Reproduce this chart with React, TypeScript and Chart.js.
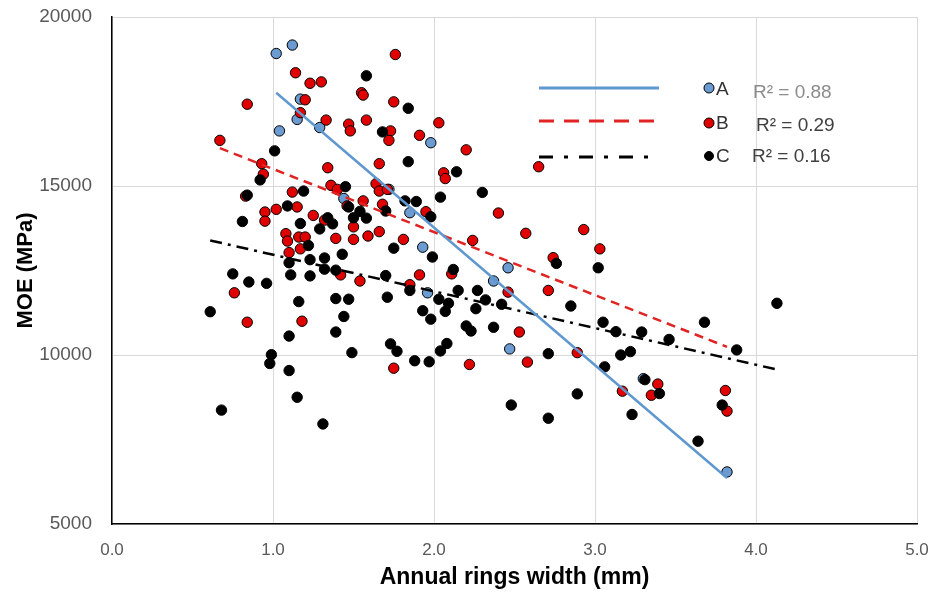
import React, { useEffect, useRef } from 'react';
import { Chart, registerables } from 'chart.js';

Chart.register(...registerables);

// ---- Series A (blue) ----
const aX = [1.02, 1.12, 1.17, 1.15, 1.04, 1.29, 1.98, 1.72, 1.44, 1.85, 1.93, 1.96, 2.37, 2.46, 2.47, 3.30, 3.82];
const aY = [18920, 19170, 17570, 16970, 16630, 16730, 16280, 14900, 14630, 14210, 13190, 11840, 12190, 12580, 10180, 9300, 6540];

// ---- Series B (red) ----
const bX = [
  1.76, 1.14, 1.23, 1.30, 1.55, 1.56, 1.20, 1.75, 0.84, 1.17, 1.33, 1.58,
  0.67, 0.93, 1.34, 0.94, 1.36, 1.40, 0.83, 1.12, 1.02, 1.15, 0.95, 0.95, 1.25, 1.32,
  1.08, 1.09, 1.16, 1.20, 1.10, 1.17, 1.39,
  1.47, 1.48, 1.73, 1.72, 1.91, 2.03, 2.20, 1.66, 2.06, 2.07, 1.64, 1.66, 1.71, 1.56, 1.46, 1.68, 1.95, 2.40, 1.50, 1.66, 1.59, 1.50, 1.81, 2.24,
  1.42, 0.76, 0.84, 1.18,
  1.54, 1.91, 1.85, 1.75, 2.22, 2.11,
  2.65, 2.57, 2.93, 3.03, 2.74, 2.46, 2.71, 2.53,
  2.89, 2.58, 3.17, 3.39, 3.35,
  3.81, 3.82,
];
const bY = [
  18890, 18350, 18040, 18080, 17760, 17690, 17550, 17490, 17420, 17170, 16950, 16950,
  16350, 15660, 15540, 15350, 15020, 14900, 14700, 14820, 14310, 14380, 14230, 13960, 14130, 13990,
  13590, 13370, 13490, 13490, 13030, 13140, 13450,
  16830, 16630, 16630, 16350, 16500, 16870, 16070, 15660, 15390, 15220, 15070, 14850, 14900, 14560, 14410, 14460, 14240, 14200, 13790, 13650, 13520, 13420, 13420, 13390,
  12370, 11840, 10970, 11000,
  12190, 12370, 12080, 9610, 9720, 12400,
  15570, 13600, 13710, 13140, 12880, 11860, 11910, 10680,
  10070, 9790, 8930, 9140, 8810,
  8950, 8340,
];

// ---- Series C (black) ----
const cX = [
  1.58, 1.84,
  1.01, 0.92, 0.84, 1.19, 1.09, 0.81, 1.34, 1.37, 1.17, 1.29,
  1.68, 1.84, 2.14, 1.45, 2.30, 2.04, 1.82, 1.89, 1.47, 1.70, 1.54, 1.98, 1.50, 1.58,
  1.22, 1.10, 1.23, 1.32, 1.43, 1.32, 1.39, 0.75, 0.85, 0.96, 1.11, 1.23, 1.16, 1.39, 0.61, 1.10, 1.39, 0.99, 0.98, 1.10,
  1.75, 1.99, 2.12, 1.70, 1.85, 1.71, 1.47, 2.03, 2.09, 2.15, 2.27, 2.32, 2.26, 1.93, 1.98, 2.07, 1.44, 2.20, 2.23, 2.37, 1.73, 1.77, 2.08, 2.04, 1.49, 1.88, 1.97,
  2.76, 3.02, 2.85, 2.42, 3.05, 3.13, 3.29,
  2.71, 3.16, 3.22, 3.06, 2.89, 2.48, 2.71, 3.31, 3.40, 3.23,
  3.68, 3.46, 4.13, 3.88, 3.79, 3.64,
  0.68, 1.15, 1.31,
];
const cY = [
  18260, 17300,
  16040, 15180, 14730, 14850, 14410, 13950, 14060, 13880, 13890, 13730,
  16600, 15720, 15420, 14980, 14810, 14670, 14560, 14540, 14380, 14260, 14250, 14090, 14060, 14050,
  13240, 12730, 12820, 12870, 12980, 12540, 12510, 12400, 12160, 12120, 12370, 12340, 11580, 11670, 11280, 10560, 10680, 10010, 9750, 9540,
  13160, 12900, 12530, 12350, 11910, 11710, 11650, 11650, 11530, 11910, 11910, 11630, 11370, 11310, 11060, 11290, 11140, 10860, 10710, 10820, 10330, 10110, 10340, 10120, 10070, 9830, 9800,
  12710, 12580, 11450, 11500, 10970, 10690, 10680,
  10040, 10000, 10100, 9650, 8850, 8520, 8130, 9270, 8860, 8240,
  10970, 10460, 11530, 10150, 8520, 7450,
  8370, 8750, 7960,
];

// ---- Trend lines (end points) ----
const trendAX = [1.02, 3.82];
const trendAY = [17760, 6360];
const trendBX = [0.67, 3.82];
const trendBY = [16120, 10240];
const trendCX = [0.61, 4.13];
const trendCY = [13390, 9570];

// ---- Legend texts ----
const seriesNames = ['A', 'B', 'C'];
const r2Labels = ['R\u00B2 = 0.88', 'R\u00B2 = 0.29', 'R\u00B2 = 0.16'];

// ---- Axis settings ----
const xMin = 0, xMax = 5, xStep = 1;
const yMin = 5000, yMax = 20000, yStep = 5000;
const xTitle = 'Annual rings width (mm)';
const yTitle = 'MOE (MPa)';

const BLUE = '#6b9bd1';
const BLUE_LINE = '#5f97cf';
const RED = '#e00000';
const RED_LINE = '#e02424';
const BLACK = '#000000';
const FONT = '"Liberation Sans", Arial, Helvetica, sans-serif';

const pts = (xs: number[], ys: number[]) => xs.map((x, i) => ({ x, y: ys[i] }));

const legendPlugin = {
  id: 'manualLegend',
  afterDraw(chart: any) {
    const ctx = chart.ctx as CanvasRenderingContext2D;
    const rows = [
      { line: BLUE_LINE, dash: [] as number[], lw: 3, ly: 88, fill: BLUE, mr: 5, my: 88, ty: 90, rx: 753, ry: 93, rc: '#8c8c8c' },
      { line: RED_LINE, dash: [15, 10], lw: 3, ly: 121, fill: RED, mr: 5, my: 123, ty: 124, rx: 756, ry: 126, rc: '#404040' },
      { line: BLACK, dash: [14, 11, 4, 11], lw: 3, ly: 157, fill: BLACK, mr: 4.5, my: 156, ty: 157, rx: 752, ry: 157, rc: '#404040' },
    ];
    ctx.save();
    rows.forEach((r, i) => {
      ctx.beginPath();
      ctx.setLineDash(r.dash);
      ctx.strokeStyle = r.line;
      ctx.lineWidth = r.lw;
      ctx.moveTo(539, r.ly);
      ctx.lineTo(659, r.ly);
      ctx.stroke();
      ctx.setLineDash([]);
      ctx.beginPath();
      ctx.arc(709, r.my, r.mr, 0, Math.PI * 2);
      ctx.fillStyle = r.fill;
      ctx.fill();
      ctx.lineWidth = 1;
      ctx.strokeStyle = '#000';
      ctx.stroke();
      ctx.font = '19px ' + FONT;
      ctx.textBaseline = 'middle';
      ctx.textAlign = 'left';
      ctx.fillStyle = '#333333';
      ctx.fillText(seriesNames[i], 716, r.ty);
      ctx.fillStyle = r.rc;
      ctx.fillText(r2Labels[i], r.rx, r.ry);
    });
    ctx.restore();
  },
};

export default function App() {
  const ref = useRef<HTMLCanvasElement | null>(null);
  useEffect(() => {
    if (!ref.current) return;
    Chart.defaults.font.family = FONT;
    const pointDs = (label: string, xs: number[], ys: number[], fill: string, order: number) => ({
      label,
      data: pts(xs, ys),
      backgroundColor: fill,
      borderColor: '#000000',
      borderWidth: 1,
      pointRadius: 5.2,
      pointHoverRadius: 5.2,
      showLine: false,
      order,
    });
    const lineDs = (label: string, xs: number[], ys: number[], color: string, dash: number[]) => ({
      type: 'line' as const,
      label,
      data: pts(xs, ys),
      borderColor: color,
      borderWidth: 2.5,
      borderDash: dash,
      pointRadius: 0,
      fill: false,
      tension: 0,
      order: 0,
    });
    const chart = new Chart(ref.current, {
      type: 'scatter',
      data: {
        datasets: [
          lineDs('A trend', trendAX, trendAY, BLUE_LINE, []),
          lineDs('B trend', trendBX, trendBY, RED_LINE, [9, 6]),
          lineDs('C trend', trendCX, trendCY, BLACK, [12, 6, 3, 6]),
          pointDs('C', cX, cY, BLACK, 1),
          pointDs('B', bX, bY, RED, 2),
          pointDs('A', aX, aY, BLUE, 3),
        ] as any,
      },
      options: {
        responsive: false,
        animation: false,
        layout: { padding: { top: 17, right: 18, left: 0, bottom: 0 } },
        plugins: { legend: { display: false }, tooltip: { enabled: false } },
        scales: {
          x: {
            type: 'linear',
            min: xMin,
            max: xMax,
            afterFit: (s: any) => { s.height = 68; },
            ticks: {
              stepSize: xStep,
              callback: (v: any) => Number(v).toFixed(1),
              color: '#595959',
              font: { size: 17 },
              padding: 2,
              maxRotation: 0,
            },
            grid: { color: '#d9d9d9', drawTicks: true, tickLength: 14, tickColor: 'rgba(0,0,0,0)', lineWidth: 1 },
            border: { color: '#000000', width: 1.5 },
            title: {
              display: true,
              text: xTitle,
              color: '#000000',
              font: { size: 23, weight: 'bold' },
              padding: { top: 0, bottom: 1 },
            },
          },
          y: {
            type: 'linear',
            min: yMin,
            max: yMax,
            afterFit: (s: any) => { s.width = 112; },
            ticks: {
              stepSize: yStep,
              callback: (v: any) => String(v),
              color: '#595959',
              font: { size: 19 },
              padding: 3,
            },
            grid: { color: '#d9d9d9', drawTicks: true, tickLength: 17, tickColor: 'rgba(0,0,0,0)', lineWidth: 1 },
            border: { color: '#000000', width: 1.5 },
            title: {
              display: true,
              text: yTitle,
              color: '#000000',
              font: { size: 22, weight: 'bold' },
              padding: { top: 13, bottom: 0 },
            },
          },
        },
      },
      plugins: [legendPlugin],
    });
    return () => chart.destroy();
  }, []);
  return (
    <div style={{ position: 'absolute', left: 0, top: 0, width: 935, height: 592, background: '#fff' }}>
      <canvas ref={ref} width={935} height={592} style={{ display: 'block' }} />
    </div>
  );
}
